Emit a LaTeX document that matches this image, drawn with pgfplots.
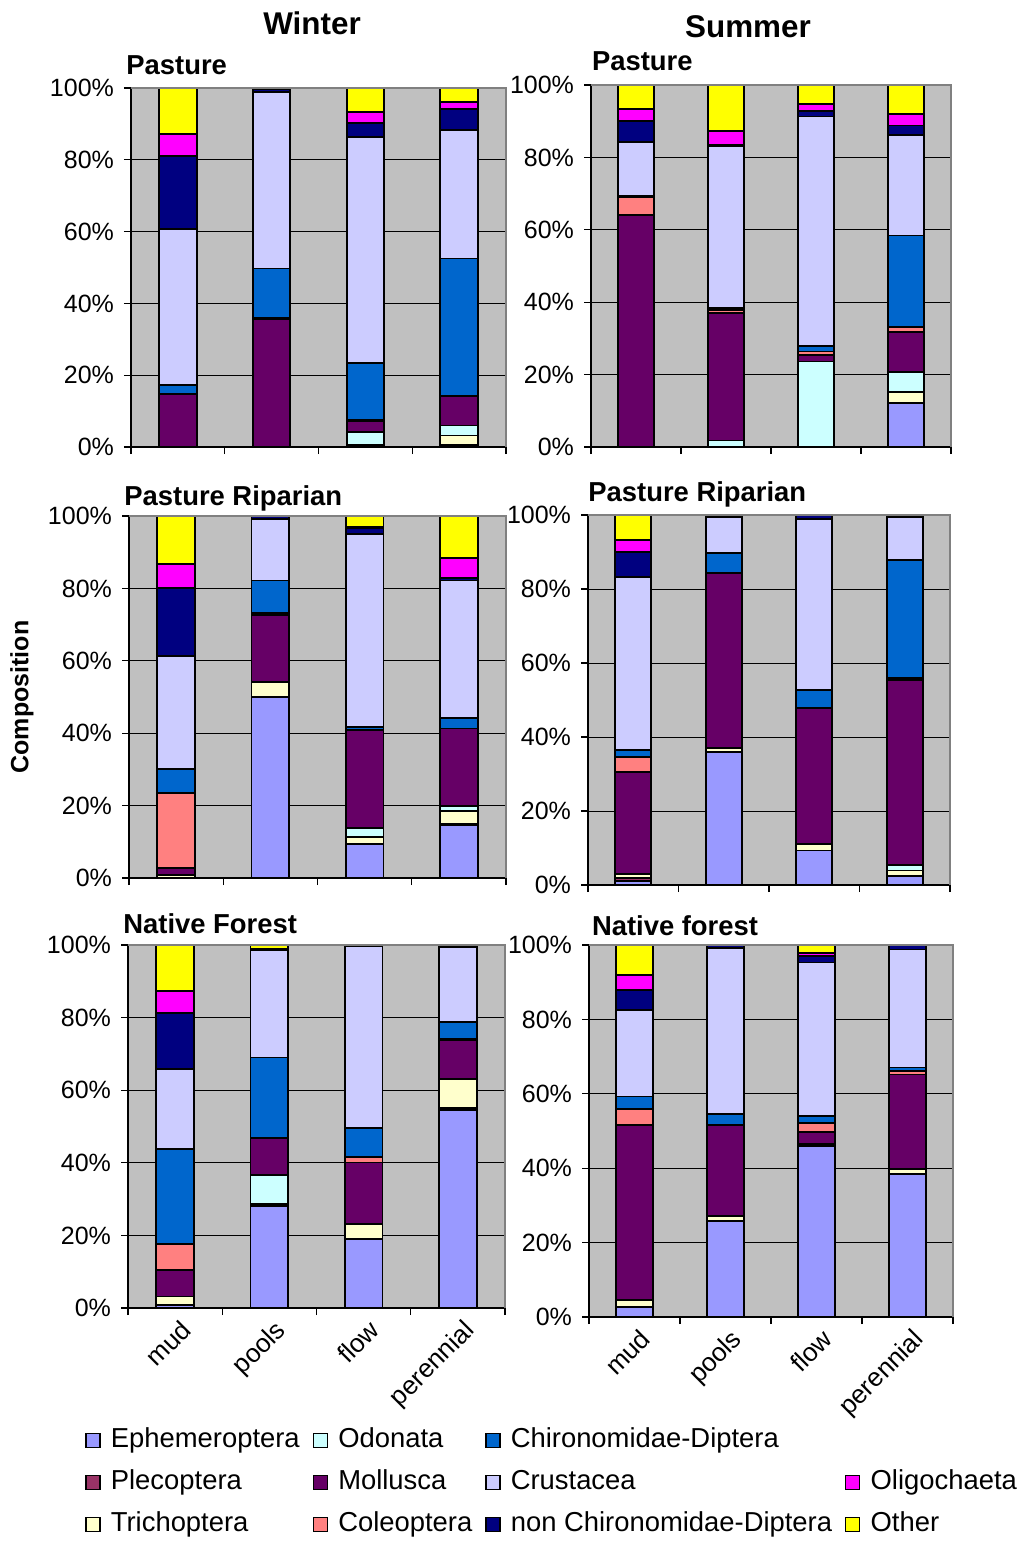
\documentclass[border=0pt]{standalone}
\usepackage{fontspec}
\setmainfont{Liberation Sans}
\usepackage{pgfplots}
\usepackage{pgfplotstable}
\pgfplotsset{compat=1.18}

\definecolor{cEph}{HTML}{9999FF}
\definecolor{cPle}{HTML}{993366}
\definecolor{cTri}{HTML}{FFFFCC}
\definecolor{cOdo}{HTML}{CCFFFF}
\definecolor{cMol}{HTML}{660066}
\definecolor{cCol}{HTML}{FF8080}
\definecolor{cChi}{HTML}{0066CC}
\definecolor{cCru}{HTML}{CCCCFF}
\definecolor{cNon}{HTML}{000080}
\definecolor{cOli}{HTML}{FF00FF}
\definecolor{cOth}{HTML}{FFFF00}
\definecolor{bgc}{HTML}{C0C0C0}
\definecolor{brd}{HTML}{808080}

\newcommand\tickfont{\fontsize{12.5}{14}\selectfont}
\newcommand\legfont{\fontsize{13.7}{16}\selectfont}
\newcommand\catfont{\fontsize{13}{15}\selectfont}

% columns: x Eph Ple Tri Odo Mol Col Chi Cru Non Oli Oth
\pgfplotstableread{
x Eph Ple Tri Odo Mol Col Chi Cru Non Oli Oth
1 0 0 0 0 14.8 0 2.5 43.4 20.3 6.2 12.8
2 0 0 0 0 35.5 0.5 13.7 49.2 0.8 0 0.3
3 0.5 0 0 3.6 3.0 0.4 15.8 63.1 3.9 3.0 6.7
4 0.5 0 2.7 2.8 8.3 0 38.2 35.7 6.0 1.9 3.9
}\WinterPasture
\pgfplotstableread{
x Eph Ple Tri Odo Mol Col Chi Cru Non Oli Oth
1 0 0 0 0 64.0 5.0 0.5 14.7 5.9 3.2 6.7
2 0 0 0 1.8 35.2 0.9 0.5 44.6 0.5 3.8 12.7
3 0 0 0 23.6 1.9 0.9 1.6 63.3 1.5 2.0 5.2
4 12.1 0 3.1 5.5 11.1 1.3 25.3 27.8 2.6 3.2 8.0
}\SummerPasture
\pgfplotstableread{
x Eph Ple Tri Odo Mol Col Chi Cru Non Oli Oth
1 0 0 0.9 0 1.9 20.7 6.6 31.2 18.9 6.6 13.2
2 49.9 0 4.2 0 18.5 0.6 9.0 17.0 0.8 0 0
3 9.5 0 1.8 2.5 27.0 0 1.0 53.2 1.6 0.5 2.9
4 14.5 0.4 3.7 1.3 21.4 0 2.9 38.0 0.6 5.5 11.7
}\WinterRiparian
\pgfplotstableread{
x Eph Ple Tri Odo Mol Col Chi Cru Non Oli Oth
1 1.1 0.8 1.1 0 27.5 4.2 1.8 46.8 6.8 3.2 6.7
2 36.0 0 1.0 0 47.4 0 5.3 9.7 0.6 0 0
3 9.3 0 1.8 0 36.8 0 4.8 46.2 1.1 0 0
4 2.5 0 1.4 1.5 50.1 0.5 31.8 11.7 0.5 0 0
}\SummerRiparian
\pgfplotstableread{
x Eph Ple Tri Odo Mol Col Chi Cru Non Oli Oth
1 0.8 0 2.4 0 7.2 7.2 26.2 22.1 15.3 6.2 12.6
2 28.2 0 0.5 8.0 10.1 0 22.2 29.5 0.5 0 1.0
3 19.0 0 4.2 0 16.9 1.6 7.9 50.0 0.4 0 0
4 54.6 0.5 7.9 0 10.9 0.3 4.6 20.7 0.5 0 0
}\WinterForest
\pgfplotstableread{
x Eph Ple Tri Odo Mol Col Chi Cru Non Oli Oth
1 2.6 0 1.9 0 47.2 4.2 3.4 23.2 5.3 4.1 8.1
2 25.8 0 1.4 0 24.5 0 2.9 44.7 0.7 0 0
3 46.0 0.5 0 0 3.3 2.3 1.9 41.3 1.7 0.9 2.1
4 38.5 0 1.2 0 25.5 0.9 1.0 31.7 1.2 0 0
}\SummerForest

\pgfplotsset{
  sqleg/.style={legend image code/.code={\draw[##1,draw=black,line width=0.6pt] (0pt,-3.5pt) rectangle (7pt,3.5pt); \path (10pt,0pt);}},
  panel/.style={
    scale only axis,
    ybar stacked, bar width=0.4,
    xmin=0.5, xmax=4.5, ymin=0, ymax=100,
    axis background/.style={fill=bgc},
    axis x line*=bottom, axis y line*=left,
    axis line style={-, black, line width=0.6pt},
    ytick={0,20,40,60,80,100},
    yticklabel={\pgfmathprintnumber{\tick}\%},
    /pgf/number format/assume math mode=true,
    yticklabel style={font=\tickfont, xshift=-1.5pt},
    ymajorgrids, grid style={black, line width=0.5pt},
    xtick={0.5,1.5,2.5,3.5,4.5}, xticklabels={},
    tick align=outside, major tick length=3.5pt,
    tick style={black, line width=0.6pt},
    every axis plot/.append style={draw=black, line width=0.9pt},
    after end axis/.code={\draw[brd, line width=0.6pt] (rel axis cs:0,1) -- (rel axis cs:1,1) -- (rel axis cs:1,0);},
  },
  catlabels/.style={
    extra x ticks={1,2,3,4},
    extra x tick labels={mud,pools,flow,perennial},
    extra x tick style={major tick length=0pt, grid=none,
      xticklabel style={rotate=45, anchor=north east, font=\catfont, inner sep=2pt, yshift=-3pt}},
  },
}

\newcommand\stackplots[1]{%
  \addplot[fill=cEph] table[x=x,y=Eph]{#1};
  \addplot[fill=cPle] table[x=x,y=Ple]{#1};
  \addplot[fill=cTri] table[x=x,y=Tri]{#1};
  \addplot[fill=cOdo] table[x=x,y=Odo]{#1};
  \addplot[fill=cMol] table[x=x,y=Mol]{#1};
  \addplot[fill=cCol] table[x=x,y=Col]{#1};
  \addplot[fill=cChi] table[x=x,y=Chi]{#1};
  \addplot[fill=cCru] table[x=x,y=Cru]{#1};
  \addplot[fill=cNon] table[x=x,y=Non]{#1};
  \addplot[fill=cOli] table[x=x,y=Oli]{#1};
  \addplot[fill=cOth] table[x=x,y=Oth]{#1};
}

\begin{document}
\begin{tikzpicture}
\useasboundingbox (0pt,0pt) rectangle (513.5pt,-772.5pt);

% column titles
\node[anchor=base, inner sep=0, font=\fontsize{15.7}{18}\selectfont\bfseries] at (156pt,-17.5pt) {Winter};
\node[anchor=base, inner sep=0, font=\fontsize{15.7}{18}\selectfont\bfseries] at (374pt,-19pt) {Summer};

% y label
\node[rotate=90, inner sep=0, font=\fontsize{12.5}{14}\selectfont\bfseries] at (11pt,-348.5pt) {Composition};

% panel titles
\node[anchor=base west, inner sep=0, font=\fontsize{13.7}{16}\selectfont\bfseries] at (63pt,-37.5pt) {Pasture};
\node[anchor=base west, inner sep=0, font=\fontsize{13.7}{16}\selectfont\bfseries] at (295.8pt,-35.5pt) {Pasture};
\node[anchor=base west, inner sep=0, font=\fontsize{13.7}{16}\selectfont\bfseries] at (62pt,-252.5pt) {Pasture Riparian};
\node[anchor=base west, inner sep=0, font=\fontsize{13.7}{16}\selectfont\bfseries] at (294pt,-250.8pt) {Pasture Riparian};
\node[anchor=base west, inner sep=0, font=\fontsize{13.7}{16}\selectfont\bfseries] at (61.5pt,-466.5pt) {Native Forest};
\node[anchor=base west, inner sep=0, font=\fontsize{13.7}{16}\selectfont\bfseries] at (295.8pt,-467.5pt) {Native forest};

% Winter Pasture
\begin{axis}[panel, at={(65.5pt,-223.5pt)}, anchor=south west, width=187.5pt, height=179.5pt]
\stackplots{\WinterPasture}
\end{axis}
% Summer Pasture
\begin{axis}[panel, at={(295.5pt,-223.5pt)}, anchor=south west, width=180pt, height=181pt]
\stackplots{\SummerPasture}
\end{axis}
% Winter Riparian
\begin{axis}[panel, at={(64.5pt,-439pt)}, anchor=south west, width=188.5pt, height=181pt]
\stackplots{\WinterRiparian}
\end{axis}
% Summer Riparian
\begin{axis}[panel, at={(294pt,-442.5pt)}, anchor=south west, width=181pt, height=185pt]
\stackplots{\SummerRiparian}
\end{axis}
% Winter Forest (carries the legend)
\begin{axis}[panel, catlabels, at={(64pt,-654pt)}, anchor=south west, width=188.5pt, height=181.5pt,
  legend columns=4,
  legend cell align=left,
  legend style={at={(-0.13,-0.305)}, anchor=north west, draw=none, fill=none,
    font=\legfont, row sep=4pt,
    nodes={inner sep=2pt, text height=10pt, text depth=3pt},
    /tikz/every even column/.append style={column sep=4.5pt}},
  legend entries={Ephemeroptera,Odonata,Chironomidae-Diptera,\mbox{},Plecoptera,Mollusca,Crustacea,Oligochaeta,Trichoptera,Coleoptera,non Chironomidae-Diptera,Other}]
\addlegendimage{sqleg, fill=cEph}
\addlegendimage{sqleg, fill=cOdo}
\addlegendimage{sqleg, fill=cChi}
\addlegendimage{empty legend}
\addlegendimage{sqleg, fill=cPle}
\addlegendimage{sqleg, fill=cMol}
\addlegendimage{sqleg, fill=cCru}
\addlegendimage{sqleg, fill=cOli}
\addlegendimage{sqleg, fill=cTri}
\addlegendimage{sqleg, fill=cCol}
\addlegendimage{sqleg, fill=cNon}
\addlegendimage{sqleg, fill=cOth}
\stackplots{\WinterForest}
\end{axis}
% Summer Forest
\begin{axis}[panel, catlabels, at={(294.5pt,-658.5pt)}, anchor=south west, width=182pt, height=186pt]
\stackplots{\SummerForest}
\end{axis}
\end{tikzpicture}
\end{document}
